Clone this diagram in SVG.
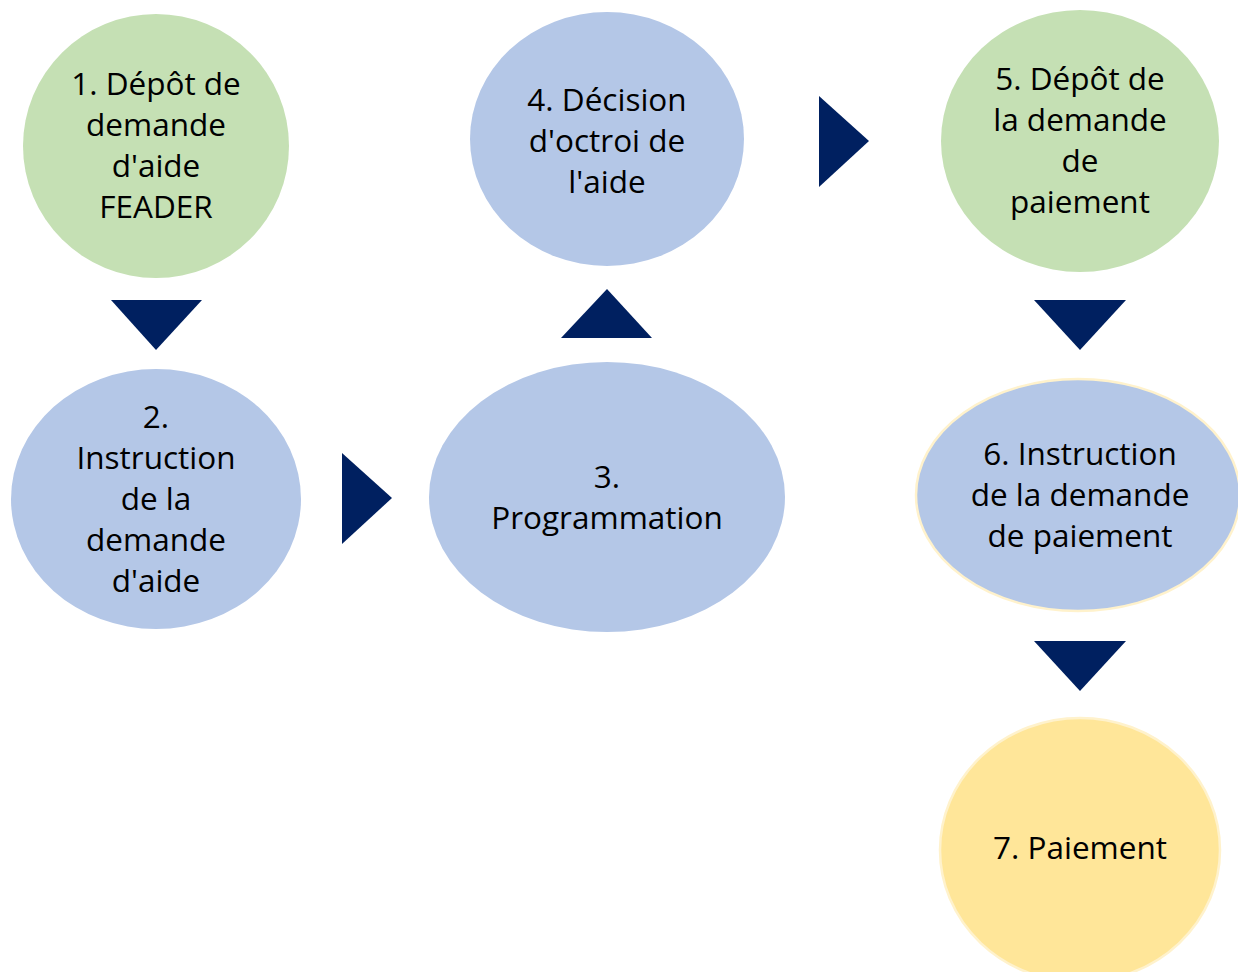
<svg xmlns="http://www.w3.org/2000/svg" width="1238" height="972" viewBox="0 0 1238 972">
<style>
.t{font-family:"Open Sans","Liberation Sans",sans-serif;font-size:31.5px;fill:#000;text-anchor:middle}
.g{fill:#C5E0B4}
.b{fill:#B4C7E7}
.y{fill:#FFE699}
.a{fill:#002060}
</style>
<rect width="1238" height="972" fill="#fff"/>
<g id="connectors">
<polygon class="a" points="111,300 202,300 156,350"/>
<polygon class="a" points="342,453 342,544 392,498"/>
<polygon class="a" points="561,338 652,338 607,289"/>
<polygon class="a" points="819,96 819,187 869,141"/>
<polygon class="a" points="1034,300 1126,300 1080,350"/>
<polygon class="a" points="1034,641 1126,641 1080,691"/>
</g>
<g id="node1">
<ellipse class="g" cx="156" cy="146" rx="133" ry="132"/>
<text class="t" x="156" y="95">1. Dépôt de</text>
<text class="t" x="156" y="136">demande</text>
<text class="t" x="156" y="177">d'aide</text>
<text class="t" x="156" y="218">FEADER</text>
</g>
<g id="node2">
<ellipse class="b" cx="156" cy="499" rx="145" ry="130"/>
<text class="t" x="156" y="428">2.</text>
<text class="t" x="156" y="469">Instruction</text>
<text class="t" x="156" y="510">de la</text>
<text class="t" x="156" y="551">demande</text>
<text class="t" x="156" y="592">d'aide</text>
</g>
<g id="node3">
<ellipse class="b" cx="607" cy="497" rx="178" ry="135"/>
<text class="t" x="607" y="488">3.</text>
<text class="t" x="607" y="529">Programmation</text>
</g>
<g id="node4">
<ellipse class="b" cx="607" cy="139" rx="137" ry="127"/>
<text class="t" x="607" y="111">4. Décision</text>
<text class="t" x="607" y="152">d'octroi de</text>
<text class="t" x="607" y="193">l'aide</text>
</g>
<g id="node5">
<ellipse class="g" cx="1080" cy="141" rx="139" ry="131"/>
<text class="t" x="1080" y="90">5. Dépôt de</text>
<text class="t" x="1080" y="131">la demande</text>
<text class="t" x="1080" y="172">de</text>
<text class="t" x="1080" y="213">paiement</text>
</g>
<g id="node6">
<ellipse class="b" cx="1078" cy="495" rx="162" ry="116" stroke="#FFF2CC" stroke-width="2.5"/>
<text class="t" x="1080" y="465">6. Instruction</text>
<text class="t" x="1080" y="506">de la demande</text>
<text class="t" x="1080" y="547">de paiement</text>
</g>
<g id="node7">
<ellipse class="y" cx="1080" cy="850" rx="140" ry="132" stroke="#FFF2CC" stroke-width="2.5"/>
<text class="t" x="1080" y="859">7. Paiement</text>
</g>
</svg>
